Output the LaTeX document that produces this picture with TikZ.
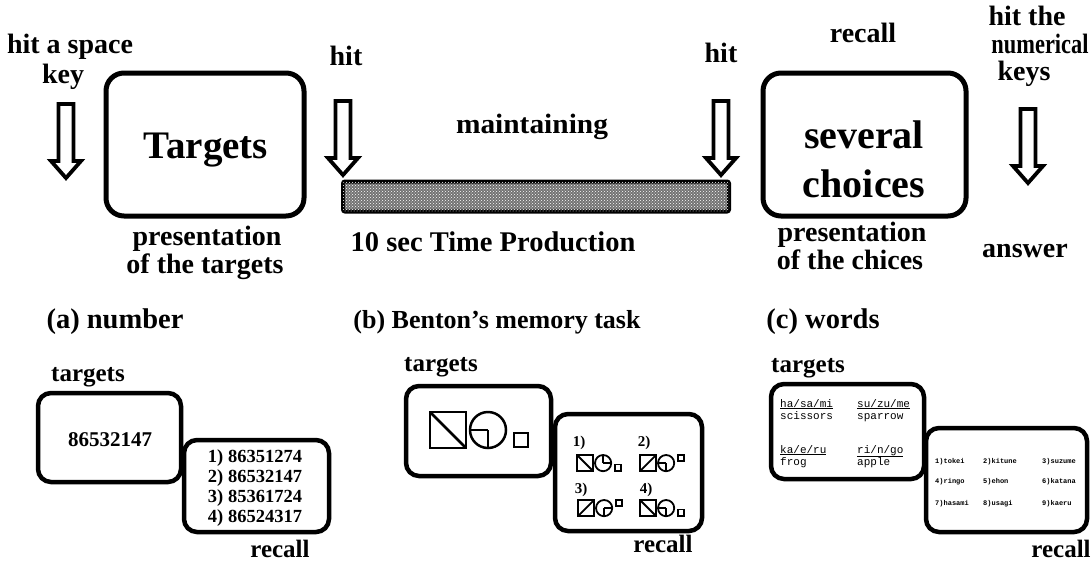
\documentclass[tikz,border=0pt]{standalone}
\usepackage{fontspec}
\setmainfont{Liberation Serif}
\newfontfamily\monof{Liberation Mono}
\usetikzlibrary{patterns}
\newcommand\bentonfig[6]{%
  \begin{scope}[shift={#1},scale=#2]
    \draw (0,0) rectangle (36,36);
    \ifnum#3=1 \draw (0,0) -- (36,36); \else \draw (0,36) -- (36,0); \fi
    \draw (58,18) circle (18);
    \draw (58,18) -- ++(#4:18);
    \draw (58,18) -- ++(#5:18);
    \draw (84,#6) rectangle ++(14,14);
  \end{scope}}
\begin{document}
\begin{tikzpicture}[x=1pt,y=-1pt,
  lbl/.style={font=\bfseries\fontsize{28}{28}\selectfont, inner sep=0pt, anchor=base},
  sublbl/.style={font=\bfseries\fontsize{25}{25}\selectfont, inner sep=0pt, anchor=base},
  head/.style={font=\bfseries\fontsize{28.5}{28.5}\selectfont, inner sep=0pt, anchor=base},
  bigbox/.style={draw, line width=5pt, rounded corners=18pt, inner sep=0pt},
  smallbox/.style={draw, line width=4.5pt, rounded corners=13pt, inner sep=0pt},
  bar/.style={draw, line width=4pt, rounded corners=2pt, inner sep=0pt,
    fill=black!55, postaction={pattern=crosshatch dots, pattern color=white}},
  monot/.style={font=\monof\fontsize{11}{11}\selectfont, inner sep=0pt, anchor=base west},
  tinyt/.style={font=\monof\bfseries\fontsize{7}{7}\selectfont, inner sep=0pt, anchor=base west},
  harrow/.pic={\draw[line width=3.8pt, fill=white, line join=miter]
     (-7.5,0) -- (-7.5,57) -- (-15,57) -- (0,74) -- (15,57) -- (7.5,57) -- (7.5,0) -- cycle;}
]
\useasboundingbox (0,0) rectangle (1091,562);

% ---------- top row ----------
\node[lbl] (hitspace) at (70,53) {hit a space};
\node[lbl] (key) at (63,83) {key};
\pic at (66,104) {harrow};

\node[bigbox, minimum width=198pt, minimum height=143pt] (targets) at (205,144.5) {};
\node[font=\bfseries\fontsize{39}{39}\selectfont, inner sep=0pt, anchor=base] (tgtxt) at (206,158) {Targets};
\node[lbl] (pres1) at (207,245) {presentation};
\node[lbl] (pres2) at (205,273) {of the targets};

\node[lbl] (hit1) at (346,65) {hit};
\pic at (343,101) {harrow};
\node[lbl] (maint) at (532,133) {\scalebox{1.05}[1]{maintaining}};
\node[lbl] (hit2) at (721,62) {hit};
\pic at (721,101) {harrow};
\node[bar, minimum width=386pt, minimum height=30pt] (bar) at (536,196.5) {};
\node[font=\bfseries\fontsize{28.5}{28.5}\selectfont, inner sep=0pt, anchor=base] (tp) at (493,251) {10 sec Time Production};

\node[lbl] (recalltop) at (863,42) {recall};
\node[bigbox, minimum width=203pt, minimum height=143pt] (choices) at (864.5,144.5) {};
\node[font=\bfseries\fontsize{40}{40}\selectfont, inner sep=0pt, anchor=base] (sev) at (864,148) {several};
\node[font=\bfseries\fontsize{40}{40}\selectfont, inner sep=0pt, anchor=base] (cho) at (864,197) {choices};
\node[lbl] (pres3) at (852,241) {presentation};
\node[lbl] (pres4) at (850,269) {of the chices};

\node[lbl] (hitthe) at (1027,25) {hit the};
\node[lbl] (numer) at (1040,53) {\scalebox{0.8}[1]{numerical}};
\node[lbl] (keys) at (1024,80) {keys};
\pic at (1028,109) {harrow};
\node[lbl] (answer) at (1025,257) {answer};

% ---------- headings ----------
\node[head] (ha) at (115,328) {(a) number};
\node[head, font=\bfseries\fontsize{26}{26}\selectfont] (hb) at (497,328) {(b) Benton's memory task};
\node[head] (hc) at (823,328) {(c) words};

% ---------- (a) ----------
\node[sublbl] (ta) at (88,381) {targets};
\node[smallbox, minimum width=143pt, minimum height=89pt] (boxa1) at (109.5,437.5) {};
\node[font=\bfseries\fontsize{21}{21}\selectfont, inner sep=0pt, anchor=base] (num) at (110,446) {86532147};
\node[smallbox, minimum width=145pt, minimum height=92pt] (boxa2) at (256.5,486) {};
\node[font=\bfseries\fontsize{18.5}{20}\selectfont, inner sep=0pt, align=center] (lista) at (255,488)
  {1) 86351274\\2) 86532147\\3) 85361724\\4) 86524317};
\node[sublbl] (ra) at (280,557) {recall};

% ---------- (b) ----------
\node[sublbl] (tb) at (441,371) {targets};
\node[smallbox, minimum width=145pt, minimum height=90pt] (boxb1) at (478.5,431) {};
\begin{scope}[line width=2.5pt]
  \bentonfig{(430,412)}{1}{1}{180}{90}{21}
\end{scope}
\node[smallbox, minimum width=147pt, minimum height=117pt] (boxb2) at (628.5,472.5) {};
\begin{scope}[line width=1.8pt]
  \bentonfig{(577,455)}{0.45}{1}{270}{0}{21}
  \bentonfig{(640,455)}{0.45}{2}{180}{90}{0}
  \bentonfig{(578,500)}{0.45}{2}{0}{90}{0}
  \bentonfig{(640,500)}{0.45}{1}{180}{90}{21}
\end{scope}
\node[font=\bfseries\fontsize{15}{15}\selectfont, inner sep=0pt, anchor=base] (n1) at (579,446) {1)};
\node[font=\bfseries\fontsize{15}{15}\selectfont, inner sep=0pt, anchor=base] (n2) at (644,446) {2)};
\node[font=\bfseries\fontsize{15}{15}\selectfont, inner sep=0pt, anchor=base] (n3) at (581,493) {3)};
\node[font=\bfseries\fontsize{15}{15}\selectfont, inner sep=0pt, anchor=base] (n4) at (646,493) {4)};
\node[sublbl] (rb) at (663,552) {recall};

% ---------- (c) ----------
\node[sublbl] (tc) at (808,372) {targets};
\node[smallbox, minimum width=153pt, minimum height=95pt] (boxc1) at (847.5,431.5) {};
\node[monot] (w1) at (780,407) {\underline{ha/sa/mi}};
\node[monot] (w2) at (780,419) {scissors};
\node[monot] (w3) at (857,407) {\underline{su/zu/me}};
\node[monot] (w4) at (857,419) {sparrow};
\node[monot] (w5) at (780,453) {\underline{ka/e/ru}};
\node[monot] (w6) at (780,465) {frog};
\node[monot] (w7) at (857,453) {\underline{ri/n/go}};
\node[monot] (w8) at (857,465) {apple};
\node[smallbox, minimum width=161pt, minimum height=104pt] (boxc2) at (1006.5,480) {};
\node[tinyt] (c1) at (935,463) {1)tokei};
\node[tinyt] (c2) at (983,463) {2)kitune};
\node[tinyt] (c3) at (1042,463) {3)suzume};
\node[tinyt] (c4) at (935,483) {4)ringo};
\node[tinyt] (c5) at (983,483) {5)ehon};
\node[tinyt] (c6) at (1042,483) {6)katana};
\node[tinyt] (c7) at (935,505) {7)hasami};
\node[tinyt] (c8) at (983,505) {8)usagi};
\node[tinyt] (c9) at (1042,505) {9)kaeru};
\node[sublbl] (rc) at (1061,557) {recall};
\end{tikzpicture}
\end{document}
